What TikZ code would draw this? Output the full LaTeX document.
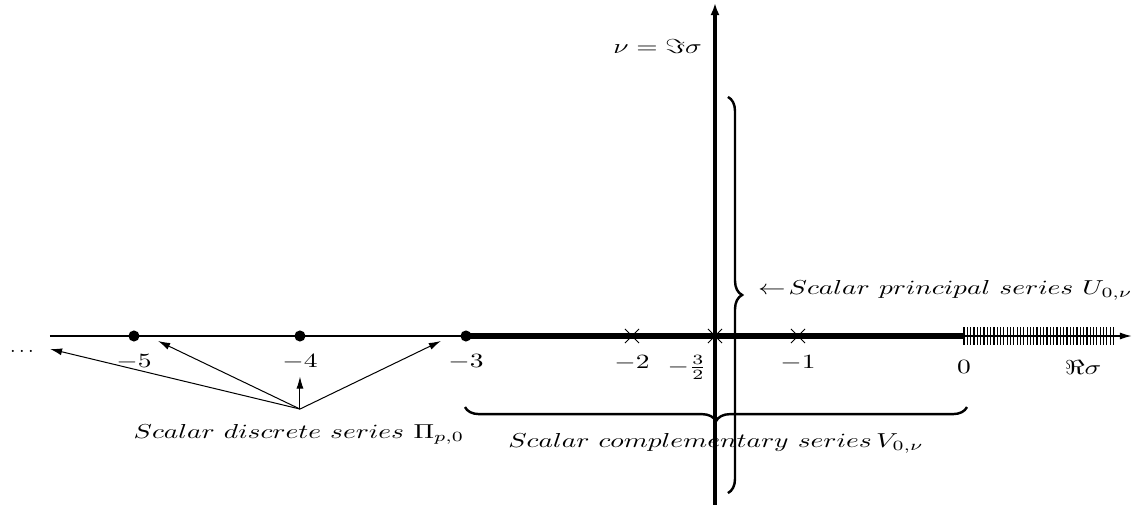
\documentclass[tikz,border=0pt]{standalone}
\usepackage{graphicx}
\usetikzlibrary{arrows.meta,decorations.pathreplacing,shapes.misc,positioning}
\newcommand{\hs}[1]{\scalebox{1.36}[1]{#1}}
\tikzset{
  dot/.style={circle,fill,inner sep=0pt,minimum size=5.5pt},
  crossmark/.style={cross out,draw,line width=0.5pt,inner sep=0pt,minimum size=6.5pt},
  seriesbrace/.style={decorate,decoration={brace,amplitude=7pt},line width=1.2pt},
  pointer/.style={line width=0.5pt,-{Latex[length=6pt,width=3.5pt]}},
}
\begin{document}
\begin{tikzpicture}[x=2.888cm,y=2.888cm]
\useasboundingbox (-5.807,-1.012) rectangle (1.042,2.024);

% real axis
\draw[line width=0.8pt] (-5.506,0) -- (-3,0);
\draw[line width=3pt] (-3,0) -- (0,0);
\draw[line width=0.8pt,-{Latex[length=6pt,width=3.5pt]}] (0,0) -- (1.012,0);
\foreach \i in {0,...,45}
{
  \draw[line width=0.6pt] (\i*0.02,-0.054) -- (\i*0.02,0.054);
}
\node (relab) at (0.717,-0.187) {\hs{$\Re\sigma$}};

% imaginary axis
\draw[line width=2.3pt,-{Latex[length=6pt,width=4.5pt]}] (-1.5,-1.02) -- (-1.5,2.006);
\node[anchor=east] (imlab) at (-1.536,1.741) {\hs{$\nu=\Im\sigma$}};

% discrete points
\foreach \s/\n in {-5/five,-4/four,-3/three}
{
  \node[dot] (\n) at (\s,0) {};
  \node (l\n) at (\s,-0.157) {\hs{$\s$}};
}
\foreach \s/\n in {-2/two,-1.5/half,-1/one}
{
  \node[crossmark] (\n) at (\s,0) {};
}
\node (ltwo) at (-2,-0.16) {\hs{$-2$}};
\node (lone) at (-1,-0.16) {\hs{$-1$}};
\node (lzero) at (0,-0.187) {\hs{$0$}};
\node[anchor=east,inner sep=0pt] (lhalf) at (-1.548,-0.187) {\hs{$-\frac{3}{2}$}};
\node (dots) at (-5.675,-0.095) {$\cdots$};

% braces
\draw[seriesbrace] (-1.422,1.44) -- (-1.422,-0.946);
\node[anchor=west] (prin) at (-1.283,0.277) {\hs{$\leftarrow\! Scalar\ principal\ series\ U_{0,\nu}$}};
\draw[seriesbrace] (0.018,-0.428) -- (-3.006,-0.428);
\node (comp) at (-1.494,-0.645) {\hs{$Scalar\ complementary\ series\,V_{0,\nu}$}};

% discrete series
\coordinate (src) at (-4,-0.44);
\coordinate (farleft) at (-5.506,-0.078);
\coordinate (nearfive) at (-4.855,-0.030);
\coordinate (nearthree) at (-3.151,-0.030);
\node (disc) at (-4.006,-0.59) {\hs{$Scalar\ discrete\ series\ \Pi_{p,0}$}};
\draw[pointer] (src) -- (farleft);
\draw[pointer] (src) -- (nearfive);
\draw[pointer] (src) -- (lfour.south);
\draw[pointer] (src) -- (nearthree);
\end{tikzpicture}
\end{document}
